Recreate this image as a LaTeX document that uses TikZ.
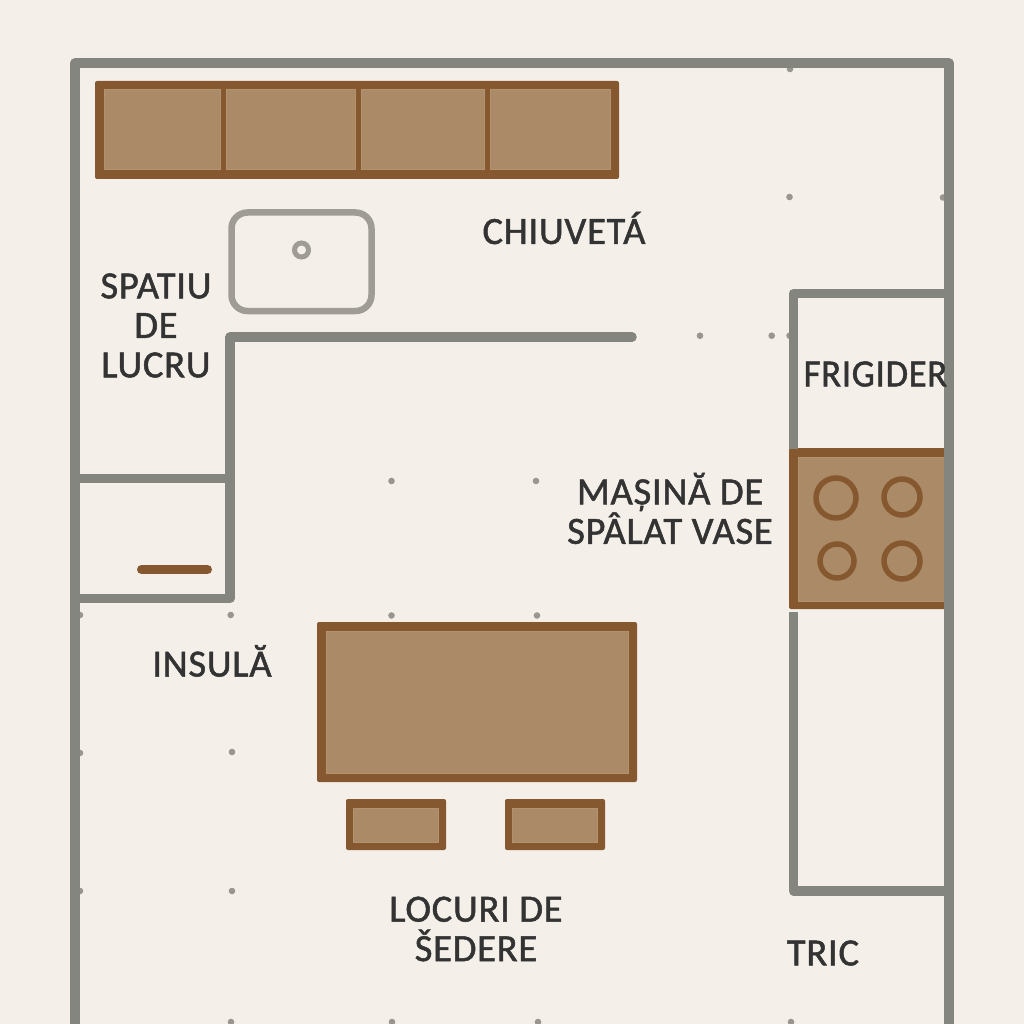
\documentclass[tikz,border=0pt]{standalone}
\usepackage{fontspec}
\setmainfont{Carlito}[FakeBold=1.3]
\definecolor{paper}{HTML}{F4F0E9}
\definecolor{wallgray}{HTML}{85857F}
\definecolor{sinkgray}{HTML}{9E9C95}
\definecolor{dotgray}{HTML}{99968F}
\definecolor{woodedge}{HTML}{85582F}
\definecolor{woodfill}{HTML}{AB8A67}
\definecolor{woodlight}{HTML}{B3926F}
\definecolor{inkgray}{HTML}{333333}
\tikzset{
  wall/.style={draw=wallgray,line width=9.5pt,line join=round},
  sinkline/.style={draw=sinkgray,line width=6.5pt},
  woodouter/.style={fill=woodedge,rounded corners=2pt},
  woodinner/.style={fill=woodfill,draw=woodlight,line width=1pt},
  burner/.style={draw=woodedge,line width=5.5pt},
  label/.style={text=inkgray,align=center,inner sep=0pt,font=\fontsize{38.5}{39.5}\selectfont\addfontfeature{LetterSpace=2}}
}
\begin{document}
\begin{tikzpicture}[x=1pt,y=-1pt]
  \fill[paper] (0,0) rectangle (1024,1024);
  \useasboundingbox (0,0) rectangle (1024,1024);
  % dots
  \foreach \x/\y in {790/69,789.5/197,943/197.5,700/335.7,771.7/335.7,789.5/335.7,391.5/481,536/481,80/615,230.7/615,391.5/615.5,537/615.5,80/753,232/752,80/891,232/891,231/1022,392/1022,538/1022,791/1022}
    \fill[dotgray] (\x,\y) circle(3.3pt);
  % wood
  \foreach \xa/\ya/\xb/\yb in {95/81/619/179,317/622/637/782,346/799/446/850,505/799/605/850,789/448/946/609}
    \fill[woodouter] (\xa,\ya) rectangle (\xb,\yb);
  \foreach \xa/\ya/\xb/\yb in {104/90/220/170,226/90/355/170,361/90/484/170,490/90/610/170,326/631/628/773,353/808/438.5/842,512/808/597.5/842,798/457/946/601}
    \filldraw[woodinner] (\xa,\ya) rectangle (\xb,\yb);
  \foreach \x/\y/\r in {836/498/20,902/497/18,837/561/17,902/561/18}
    \draw[burner] (\x,\y) circle(\r pt);
  \draw[woodedge,line width=9pt,line cap=round] (141.5,569.5) -- (207.5,569.5);
  % sink
  \draw[sinkline,rounded corners=16pt] (231.5,212.5) rectangle (371.5,311);
  \draw[sinkgray,line width=5pt] (301.5,250) circle(7pt);
  % walls
  \draw[wall,line cap=round] (632,337) -- (230,337) -- (230,598.5) -- (75,598.5);
  \draw[wall] (75,478.5) -- (230,478.5);
  \draw[wall] (793.5,449) -- (793.5,293.5) -- (949,293.5);
  \draw[wall] (793.5,612) -- (793.5,891) -- (949,891);
  \draw[wall] (75,1024) -- (75,63) -- (949,63) -- (949,1024);
  % labels
  \node[label] (chiuveta) at (564,228) {CHIUVETÁ};
  \node[label] (spatiu) at (156,325.5) {SPATIU\\DE\\LUCRU};
  \node[label,xscale=.95] (frigider) at (875.5,374) {FRIGIDER};
  \node[label] (masina) at (670,508.5) {MAȘINĂ DE\\SPÂLAT VASE};
  \node[label] (insula) at (212,661) {INSULĂ};
  \node[label] (locuri) at (476,929) {LOCURI DE\\ŠEDERE};
  \node[label] (tric) at (823,953) {TRIC};
\end{tikzpicture}
\end{document}
